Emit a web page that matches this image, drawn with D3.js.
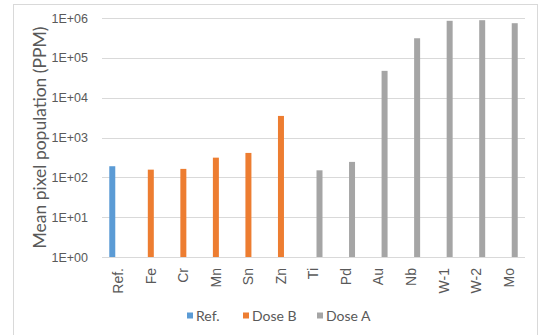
<!DOCTYPE html>
<html>
<head>
<meta charset="utf-8">
<script src="https://cdn.jsdelivr.net/npm/d3@7"></script>
<style>
  html, body { margin: 0; padding: 0; background: #fff; }
  svg { display: block; font-family: Lato, "Open Sans", sans-serif; }
</style>
</head>
<body>
<svg id="chart" width="539" height="335"></svg>
<script>
// Categories along the x axis
const categories = ["Ref.", "Fe", "Cr", "Mn", "Sn", "Zn", "Ti", "Pd", "Au", "Nb", "W-1", "W-2", "Mo"];
// Series names (legend order)
const seriesNames = ["Ref.", "Dose B", "Dose A"];
const seriesColors = ["#5b9bd5", "#ed7d31", "#a5a5a5"];
// Series values (null = no bar for that category)
const refValues   = [190, null, null, null, null, null, null, null, null, null, null, null, null];
const doseBValues = [null, 156, 163, 312, 410, 3480, null, null, null, null, null, null, null];
const doseAValues = [null, null, null, null, null, null, 150, 244, 47100, 310000, 850000, 880000, 740000];
// Y tick values and labels
const yTicks = [1, 10, 100, 1000, 10000, 100000, 1000000];
const yTickLabels = ["1E+00", "1E+01", "1E+02", "1E+03", "1E+04", "1E+05", "1E+06"];

const seriesValues = [refValues, doseBValues, doseAValues];

const svg = d3.select("#chart");
const W = 539, H = 335;
const margin = { left: 102, right: 14, top: 18, bottom: 78 };
const plotW = W - margin.left - margin.right;
const plotH = H - margin.top - margin.bottom;

// Outer chart border
svg.append("rect")
  .attr("x", 13.5).attr("y", 4.5)
  .attr("width", W - 15).attr("height", H - 4)
  .attr("fill", "#fff").attr("stroke", "#d9d9d9").attr("stroke-width", 1);

const g = svg.append("g").attr("transform", `translate(${margin.left},${margin.top})`);

const x = d3.scaleBand().domain(categories).range([0, plotW]).padding(0);
const bw = 6;
const x1 = d3.scaleBand().domain(seriesNames)
  .range([x.bandwidth() / 2 - bw * 1.5, x.bandwidth() / 2 + bw * 1.5]).padding(0);
const y = d3.scaleLog().domain([1, 1000000]).range([plotH, 0]);

// Gridlines
g.append("g")
  .selectAll("line").data(yTicks).join("line")
  .attr("x1", 0).attr("x2", plotW)
  .attr("y1", d => Math.round(y(d)) + 0.5).attr("y2", d => Math.round(y(d)) + 0.5)
  .attr("stroke", "#d9d9d9").attr("stroke-width", 1);

// Y axis labels
const yAxis = d3.axisLeft(y).tickValues(yTicks)
  .tickFormat((d, i) => yTickLabels[i]).tickSize(0).tickPadding(14);
const ya = g.append("g").call(yAxis);
ya.select(".domain").remove();
ya.selectAll("text").attr("fill", "#595959").style("font-size", "12.5px");

// Bars
seriesNames.forEach((s, si) => {
  const data = categories.map((c, i) => ({ c, v: seriesValues[si][i] })).filter(d => d.v != null);
  g.append("g").selectAll("rect").data(data).join("rect")
    .attr("x", d => x(d.c) + x1(s))
    .attr("width", x1.bandwidth())
    .attr("y", d => y(d.v))
    .attr("height", d => y(1) - y(d.v))
    .attr("fill", seriesColors[si]);
});

// X axis labels (rotated)
const xAxis = d3.axisBottom(x).tickSize(0).tickPadding(0);
const xa = g.append("g").attr("transform", `translate(0,${plotH})`).call(xAxis);
xa.select(".domain").remove();
xa.selectAll("text")
  .attr("fill", "#595959")
  .style("font-size", "14px")
  .attr("text-anchor", "end")
  .attr("dy", "0.35em")
  .attr("transform", "translate(0,11) rotate(-90)")
  .attr("x", 0).attr("y", 0);

// Y axis title
svg.append("text")
  .attr("transform", `translate(40,${margin.top + plotH / 2}) rotate(-90)`)
  .attr("text-anchor", "middle").attr("dy", "0.35em")
  .attr("fill", "#595959").style("font-size", "17.5px")
  .text("Mean pixel population (PPM)");

// Legend
const legendX = [187, 243, 317];
const legend = svg.append("g");
seriesNames.forEach((s, i) => {
  legend.append("rect").attr("x", legendX[i]).attr("y", 312.5).attr("width", 6).attr("height", 6)
    .attr("fill", seriesColors[i]);
  legend.append("text").attr("x", legendX[i] + 9).attr("y", 316).attr("dy", "0.35em")
    .attr("fill", "#595959").style("font-size", "14px").text(s);
});
</script>
</body>
</html>
